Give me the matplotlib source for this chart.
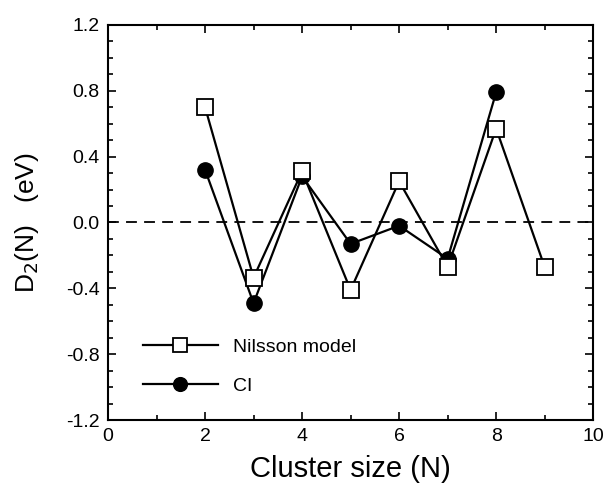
import matplotlib
matplotlib.use('Agg')
import matplotlib.pyplot as plt
from matplotlib.ticker import MultipleLocator

plt.rcParams['font.family'] = ['Liberation Sans', 'DejaVu Sans']

# %%
n_nilsson = [2, 3, 4, 5, 6, 7, 8, 9]
d2_nilsson = [0.70, -0.335, 0.31, -0.41, 0.25, -0.27, 0.57, -0.27]
n_ci = [2, 3, 4, 5, 6, 7, 8]
d2_ci = [0.32, -0.49, 0.28, -0.13, -0.02, -0.22, 0.79]

# %%
fig = plt.figure(figsize=(6.11, 4.96), dpi=100)
ax = fig.add_axes([0.1768, 0.153, 0.794, 0.797])

ax.axhline(0, color='black', linestyle=(0, (6, 4)), linewidth=1.3, zorder=1)
ax.plot(n_nilsson, d2_nilsson, '-s', color='black', linewidth=1.6,
        markersize=11, markerfacecolor='white', markeredgewidth=1.3,
        label='Nilsson model', zorder=3)
ax.plot(n_ci, d2_ci, '-o', color='black', linewidth=1.6,
        markersize=11, markerfacecolor='black', label='CI', zorder=2)

ax.set_xlim(0, 10)
ax.set_ylim(-1.2, 1.2)
ax.xaxis.set_major_locator(MultipleLocator(2))
ax.xaxis.set_minor_locator(MultipleLocator(1))
ax.yaxis.set_major_locator(MultipleLocator(0.4))
ax.yaxis.set_minor_locator(MultipleLocator(0.1))
ax.yaxis.set_major_formatter(matplotlib.ticker.FormatStrFormatter('%.1f'))
ax.tick_params(which='both', direction='in', top=True, right=True,
               labelsize=14, width=1.2)
ax.tick_params(which='major', length=6, pad=6)
ax.tick_params(which='minor', length=3.5)
for s in ax.spines.values():
    s.set_linewidth(1.5)

ax.set_xlabel('Cluster size (N)', fontsize=21, labelpad=7)
ax.set_ylabel('D$_2$(N)   (eV)', fontsize=19, labelpad=18)

leg = ax.legend(loc='lower left', bbox_to_anchor=(0.035, 0.02), frameon=False,
                fontsize=14, handlelength=3.9, labelspacing=1.1,
                handletextpad=0.75, markerscale=0.9)

plt.savefig('out.png', dpi=100)
